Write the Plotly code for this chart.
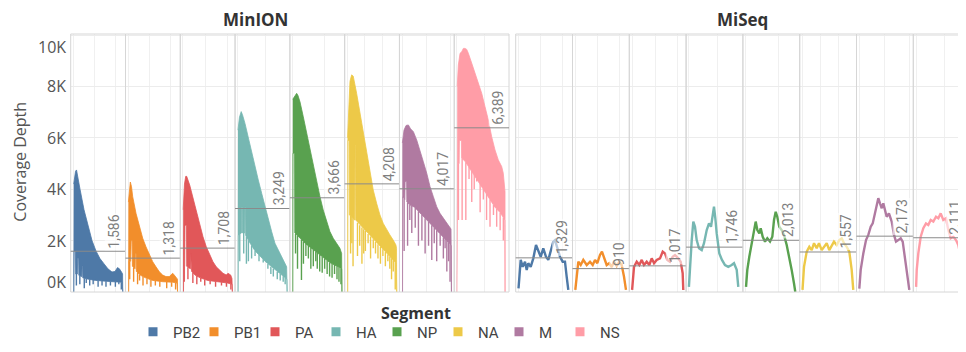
import numpy as np
import plotly.graph_objects as go

# ---------------- data ----------------
segments = ["PB2", "PB1", "PA", "HA", "NP", "NA", "M", "NS"]
colors = ["#4e79a7", "#f28e2b", "#e15759", "#76b7b2", "#59a14f", "#edc948", "#b07aa1", "#ff9da7"]
segment_length_nt = [2341, 2341, 2233, 1778, 1565, 1413, 1027, 890]
panels = ["MinION", "MiSeq"]
minion_mean = [1586, 1318, 1708, 3249, 3666, 4208, 4017, 6389]
miseq_mean = [1329, 910, 1017, 1746, 2013, 1557, 2173, 2111]
y_tick_values = [0, 2000, 4000, 6000, 8000, 10000]
y_tick_labels = ["0K", "2K", "4K", "6K", "8K", "10K"]

# MinION coverage (position as % of segment, depth): upper envelope, body floor, dips
PB2_MINION_TOP = [(0.6, 4200), (4.3, 4700), (6.3, 4750), (9.3, 4400), (13.4, 4000), (21.5, 3200), (29.6, 2550), (37.7, 2000), (45.7, 1600), (53.8, 1300), (61.9, 1100), (70.0, 900), (78.1, 780), (84.2, 800), (89.3, 950), (93.3, 900), (97.4, 780), (99.6, 700)]
PB2_MINION_FLOOR = [(0, 0), (1, 0), (1.6, 1600), (4, 1600), (4.5, 700), (8, 700), (8.5, 1300), (10.5, 1300), (11, 650), (17, 600), (17.5, 1000), (18.5, 1000), (19, 550), (30, 500), (45, 450), (60, 420), (80, 400), (98.8, 380), (100, 0)]
PB2_MINION_DIPS = [(6, 250), (13, 300), (22, 150), (26, 350), (33, 250), (40, 300), (50, 200), (58, 250), (66, 200), (75, 250), (85, 200), (92, 300), (97, 100)]

PB1_MINION_TOP = [(0.4, 3500), (2.6, 4100), (4.3, 4280), (6.7, 4100), (9.1, 3710), (15.8, 3060), (22.5, 2540), (29.4, 2090), (36, 1760), (42.7, 1440), (49.6, 1180), (56.3, 980), (63, 790), (69.8, 660), (76.5, 600), (83.2, 600), (90.1, 730), (93.3, 660), (98.2, 530), (99.8, 500)]
PB1_MINION_FLOOR = [(0, 0), (1, 0), (1.6, 1200), (5, 1200), (6, 2000), (8, 2000), (8.5, 1000), (14, 900), (14.5, 1500), (16, 1500), (16.5, 800), (25, 650), (35, 550), (50, 450), (70, 400), (90, 380), (98.8, 350), (100, 0)]
PB1_MINION_DIPS = [(3, 500), (11, 400), (19, 300), (23, 450), (30, 250), (38, 300), (46, 200), (55, 250), (64, 200), (78, 150), (88, 200), (96, 100)]

PA_MINION_TOP = [(0.4, 3200), (3, 4200), (5.5, 4500), (7.5, 4500), (13.6, 4160), (20.2, 3650), (26.9, 3120), (33.8, 2610), (40.5, 2150), (47.2, 1760), (54, 1440), (60.7, 1180), (67.4, 980), (74.3, 860), (81, 730), (87.7, 660), (91.1, 730), (96.6, 660), (99.2, 530)]
PA_MINION_FLOOR = [(0, 0), (1, 0), (1.6, 1000), (3.5, 1000), (4, 2600), (7, 2600), (7.5, 1000), (15, 900), (15.5, 1500), (17, 1500), (17.5, 800), (25, 650), (35, 550), (50, 450), (70, 400), (90, 350), (99.5, 300), (100, 0)]
PA_MINION_DIPS = [(2.5, 400), (10, 500), (20, 350), (28, 300), (36, 400), (44, 250), (55, 300), (66, 200), (78, 250), (88, 200), (97, 100)]

HA_MINION_TOP = [(0.4, 6300), (3.4, 6800), (6.9, 7020), (9.5, 6900), (14.6, 6560), (21.3, 5980), (28.1, 5460), (34.8, 4880), (41.5, 4360), (48.4, 3840), (55.1, 3320), (61.7, 2800), (68.6, 2350), (75.3, 1900), (82, 1630), (88.9, 1370), (94.1, 1180), (99, 980)]
HA_MINION_FLOOR = [(0, 0), (0.8, 0), (1.2, 2200), (7.5, 2300), (8, 3300), (9, 3300), (9.5, 2300), (14, 2300), (14.5, 3300), (15.5, 3300), (16, 2200), (25, 1900), (35, 1600), (45, 1400), (55, 1200), (66, 1000), (76, 850), (86, 700), (96, 550), (99.5, 500), (100, 0)]
HA_MINION_DIPS = [(4, 1200), (12, 1500), (17.5, 1100), (21.5, 1200), (28, 1300), (35, 1400), (43, 1200), (51.5, 1150), (61, 900), (67, 700), (72, 600), (80, 500), (86, 450), (92, 400), (96, 300)]

NP_MINION_TOP = [(0.4, 7500), (3.8, 7600), (8.3, 7730), (10.9, 7650), (15, 7400), (21.7, 6820), (28.5, 6170), (35.2, 5530), (41.9, 4880), (48.8, 4290), (55.5, 3710), (62.1, 3190), (69, 2740), (75.7, 2350), (82.4, 2090), (89.3, 1900), (95.9, 1700), (99.4, 1500)]
NP_MINION_FLOOR = [(0, 0), (0.6, 0), (1.0, 5400), (4, 5400), (4.5, 2300), (15, 2100), (25, 1900), (35, 1750), (45, 1600), (55, 1450), (65, 1300), (75, 1150), (85, 1050), (95, 950), (99.5, 900), (100, 0)]
NP_MINION_DIPS = [(6, 1500), (10, 900), (18, 470), (22, 1100), (27, 1400), (32, 1300), (37, 900), (42, 1000), (47, 1200), (50, 900), (55, 800), (60, 750), (65, 900), (70, 700), (75, 600), (80, 550), (85, 700), (90, 500), (94, 400), (98, 300)]

NA_MINION_TOP = [(0.4, 6000), (2.2, 7000), (5.3, 8200), (8.7, 8450), (11.9, 8400), (18.8, 7730), (25.5, 6950), (32.2, 6170), (39.1, 5400), (45.7, 4620), (52.4, 3970), (59.3, 3450), (66, 3000), (72.7, 2670), (79.6, 2410), (86.2, 2220), (92.9, 2020), (98.4, 1830), (99.6, 1700)]
NA_MINION_FLOOR = [(0, 0), (0.8, 0), (1.2, 5900), (3.5, 5900), (4, 3000), (10, 2900), (15, 2800), (15.5, 5700), (16.5, 5700), (17, 2800), (20, 2700), (30, 2500), (40, 2300), (50, 2100), (60, 1900), (70, 1700), (80, 1500), (90, 1300), (99, 1100), (100, 0)]
NA_MINION_DIPS = [(6.5, 1500), (9, 1900), (11.5, 1000), (20.5, 1400), (25, 1800), (29.5, 1100), (33, 1500), (36.5, 1600), (42, 1900), (47, 1300), (52.5, 1700), (57, 1500), (62, 1300), (67, 1100), (72, 1400), (77, 1000), (82, 1200), (86, 900), (89.5, 500), (93, 800), (97, 100)]

M_MINION_TOP = [(0.4, 5800), (3.8, 6300), (7.9, 6480), (12.6, 6500), (17, 6350), (22.7, 6240), (29.6, 5910), (36.2, 5530), (42.9, 5070), (49.8, 4620), (56.5, 4100), (63.2, 3710), (70, 3320), (76.7, 3060), (83.4, 2870), (90.3, 2670), (95.5, 2540), (99, 2450)]
M_MINION_FLOOR = [(0, 0), (0.8, 0), (1.2, 3700), (5.5, 3600), (6, 4300), (9, 4300), (9.5, 3500), (15, 3400), (25, 3300), (35, 3100), (45, 2900), (55, 2700), (65, 2500), (75, 2300), (85, 2100), (95, 1900), (99.5, 1800), (100, 0)]
M_MINION_DIPS = [(4, 1600), (11, 1800), (15.5, 2800), (19.5, 2300), (26.5, 2500), (33, 1800), (40, 2000), (46.5, 1500), (53.5, 1800), (60, 1250), (65, 1900), (70, 1200), (77, 1800), (83.5, 1300), (87, 1700), (90.5, 800), (94, 1200), (97, 400)]

NS_MINION_TOP = [(0.6, 8000), (2.8, 8830), (6.3, 9290), (9.7, 9350), (13, 9480), (16.4, 9480), (19.8, 9440), (23.1, 9290), (30, 8900), (36.6, 8510), (43.3, 8120), (50.2, 7730), (56.9, 7210), (63.6, 6690), (70.4, 6040), (77.1, 5530), (83.8, 5140), (90.7, 4880), (93.9, 4620), (96, 4100), (97.4, 3900)]
NS_MINION_FLOOR = [(0, 0), (0.8, 0), (1.5, 5000), (4.5, 5000), (5, 5900), (9, 5900), (9.5, 5200), (16, 5100), (27, 4800), (37, 4500), (47, 4200), (57, 3900), (67, 3600), (77, 3300), (87, 3100), (94, 2900), (97, 2800), (97.5, 0)]
NS_MINION_DIPS = [(3, 2800), (10.5, 2800), (18, 2800), (24.5, 4400), (30, 3500), (35, 4000), (40, 4300), (47, 3100), (53.5, 3600), (60, 2800), (67, 2540), (74, 3000), (80.5, 2540), (87.5, 2400), (94, 2000)]

# MiSeq coverage (position as % of segment, depth)
PB2_MISEQ = [(0, 140), (4.3, 1250), (8.2, 980), (12.7, 1180), (16, 860), (19.1, 1120), (23.8, 980), (28.9, 1310), (34.2, 1830), (38.7, 1570), (43.4, 1370), (48.4, 1700), (53.7, 1370), (58.2, 1250), (62.9, 1630), (68, 1960), (71.3, 2020), (75.8, 1760), (81.1, 1370), (86.3, 1180), (90.8, 1180), (94.1, 600), (97.3, 80)]
PB1_MISEQ = [(0, 80), (5.9, 1180), (10.5, 1050), (15.6, 1250), (22.3, 1050), (28.7, 1180), (34, 1050), (38.5, 1250), (43, 1120), (48.2, 1440), (52.1, 1570), (56.1, 1310), (61.3, 1050), (66.4, 1120), (71.1, 980), (75.6, 1180), (80.9, 1010), (85.9, 1180), (90.6, 1050), (95.1, 600), (99, 80)]
PA_MISEQ = [(0, 80), (3.7, 980), (9, 1180), (14.1, 1050), (18.8, 1250), (23.2, 1050), (28.5, 1180), (33.6, 1050), (38.3, 1310), (42.8, 1120), (48, 1250), (54.5, 1310), (59.8, 1570), (64.3, 1500), (68.8, 1250), (74, 1180), (79.3, 1370), (83.8, 1440), (90.2, 1310), (94.9, 1180), (98.8, 730), (100, 80)]
HA_MISEQ = [(0, 200), (2.1, 980), (5.5, 2020), (8.6, 2740), (11.9, 2540), (15.2, 2020), (19.7, 1700), (25, 1630), (29.5, 1900), (34.8, 2410), (39.3, 2670), (43.2, 2540), (46.5, 3000), (49, 3320), (51.6, 2870), (54.3, 2280), (59.4, 1500), (64.6, 1250), (70.5, 1050), (76.9, 980), (83.6, 1050), (88.1, 1120), (93.4, 860), (96.5, 200)]
NP_MISEQ = [(0.6, 200), (3.1, 860), (7, 1370), (11.7, 1900), (16.2, 2280), (19.5, 2740), (22.7, 2410), (26.6, 2280), (29.3, 2480), (33.2, 2150), (37.7, 1960), (42.2, 2090), (47.5, 1960), (52, 2150), (55.3, 2800), (58.6, 3120), (61.7, 2930), (65.6, 2540), (70.3, 2410), (74.8, 2220), (80.1, 1830), (85.2, 1370), (89.8, 860), (94.3, 340), (96.9, 0)]
NA_MISEQ = [(0, 80), (2.9, 980), (8.2, 1570), (13.3, 1760), (18, 1630), (22.5, 1900), (27.7, 1700), (32.2, 1900), (37.5, 1630), (42, 1760), (47.3, 1900), (52.3, 1630), (57, 1830), (61.5, 1960), (66.8, 1830), (71.9, 2020), (76.6, 2090), (81.1, 1900), (86.3, 1760), (91.4, 1570), (96.1, 860), (99.2, 80)]
M_MISEQ = [(0, 130), (2.7, 860), (7.8, 1500), (13.1, 2020), (17.6, 2220), (22.3, 2540), (26.2, 2670), (30.7, 3060), (34, 3390), (37.1, 3650), (40.4, 3450), (43.8, 3260), (46.9, 3450), (50.2, 3120), (53.5, 2930), (57.9, 3060), (63.3, 2740), (67.8, 2220), (71.7, 1960), (76.2, 2020), (80.9, 2090), (84.8, 1960), (89.3, 1370), (93.8, 600), (97.7, 80)]
NS_MISEQ = [(0, 200), (1.2, 860), (4.3, 1500), (9, 2150), (14.1, 2480), (19.3, 2670), (23.8, 2610), (28.5, 2800), (33.6, 2740), (38.9, 2930), (43.4, 2870), (48, 3060), (53.1, 2800), (58.4, 2870), (62.9, 2410), (67.6, 2090), (72.7, 2150), (77.9, 2020), (82.4, 1830), (87.1, 1370), (91, 730), (93.6, 200)]

minion_top = [PB2_MINION_TOP, PB1_MINION_TOP, PA_MINION_TOP, HA_MINION_TOP, NP_MINION_TOP, NA_MINION_TOP, M_MINION_TOP, NS_MINION_TOP]
minion_floor = [PB2_MINION_FLOOR, PB1_MINION_FLOOR, PA_MINION_FLOOR, HA_MINION_FLOOR, NP_MINION_FLOOR, NA_MINION_FLOOR, M_MINION_FLOOR, NS_MINION_FLOOR]
minion_dips = [PB2_MINION_DIPS, PB1_MINION_DIPS, PA_MINION_DIPS, HA_MINION_DIPS, NP_MINION_DIPS, NA_MINION_DIPS, M_MINION_DIPS, NS_MINION_DIPS]
miseq_lines = [PB2_MISEQ, PB1_MISEQ, PA_MISEQ, HA_MISEQ, NP_MISEQ, NA_MISEQ, M_MISEQ, NS_MISEQ]

# ---------------- layout geometry (window pixels) ----------------
WIN_W, WIN_H = 966, 352
OFF = 8                      # default page margin of the html body
FW, FH = WIN_W - OFF, WIN_H - OFF


def px_x(x):
    return (x - OFF) / FW


def px_y(y):
    return (WIN_H - y) / FH


PLOT_TOP, PLOT_BOTTOM = 34, 292
MINION_LEFT, MINION_COL = 70.7, 54.79
MISEQ_LEFT, MISEQ_COL = 515.7, 56.8
X_RANGE = [-5.5, 105.5]
Y_RANGE = [0, 10040]

fig = go.Figure()
layout_axes = {}
shapes = []
annotations = []


def axis_name(k):
    return "x" if k == 0 else f"x{k + 1}"


def layout_key(k):
    return "xaxis" if k == 0 else f"xaxis{k + 1}"


for p, panel in enumerate(panels):
    for i, seg in enumerate(segments):
        k = p * 8 + i
        ax = axis_name(k)
        rng = list(X_RANGE)
        if p == 0:
            x0 = MINION_LEFT + i * MINION_COL
            x1 = x0 + MINION_COL
        else:
            x0 = MISEQ_LEFT + i * MISEQ_COL
            x1 = x0 + MISEQ_COL
            if x1 > WIN_W:  # last column is cut by the picture edge
                rng[1] = X_RANGE[0] + (WIN_W - x0) / MISEQ_COL * (X_RANGE[1] - X_RANGE[0])
                x1 = WIN_W
        L = segment_length_nt[i]
        step = 1000 if L >= 1500 else 500
        grid_vals = [100.0 * n * step / L for n in range(0, int(L // step) + 1)]
        layout_axes[layout_key(k)] = dict(
            domain=[px_x(x0), min(1.0, px_x(x1))], range=rng, anchor="y",
            showticklabels=False, ticks="", showline=False, zeroline=False,
            showgrid=True, gridcolor="#f0f0f0", gridwidth=1,
            tickmode="array", tickvals=grid_vals, fixedrange=True,
        )
        color = colors[i]
        if p == 0:
            top = minion_top[i]
            floor = minion_floor[i]
            xs = [a for a, _ in top] + [a for a, _ in floor[::-1]]
            ys = [b for _, b in top] + [b for _, b in floor[::-1]]
            fig.add_trace(go.Scatter(
                x=xs, y=ys, xaxis=ax, yaxis="y", mode="lines", fill="toself",
                fillcolor=color, line=dict(color=color, width=0.8),
                showlegend=False, hoverinfo="skip"))
            fx = [a for a, _ in floor]
            fy = [b for _, b in floor]
            dx, dy = [], []
            for a, b in minion_dips[i]:
                dx += [a, a, None]
                dy += [b, float(np.interp(a, fx, fy)), None]
            fig.add_trace(go.Scatter(
                x=dx, y=dy, xaxis=ax, yaxis="y", mode="lines",
                line=dict(color=color, width=1.4),
                showlegend=False, hoverinfo="skip"))
            mean = minion_mean[i]
        else:
            pts = miseq_lines[i]
            fig.add_trace(go.Scatter(
                x=[a for a, _ in pts], y=[b for _, b in pts], xaxis=ax, yaxis="y",
                mode="lines", line=dict(color=color, width=2.4),
                showlegend=False, hoverinfo="skip"))
            mean = miseq_mean[i]

        # column border
        shapes.append(dict(type="rect", xref=f"{ax} domain", yref="y domain",
                           x0=0, x1=1, y0=0, y1=1, line=dict(color="#d6d6d6", width=1),
                           fillcolor="rgba(0,0,0,0)", layer="above"))
        # mean reference line
        shapes.append(dict(type="line", xref=f"{ax} domain", yref="y",
                           x0=0, x1=1, y0=mean, y1=mean,
                           line=dict(color="#8a8a8a", width=1), layer="above"))
        annotations.append(dict(
            xref=f"{ax} domain", yref="y", x=1, y=mean, xanchor="right", yanchor="bottom",
            text=f"{mean:,}", textangle=-90, showarrow=False, yshift=1, xshift=-1,
            font=dict(family="Roboto", size=14, color="#7f7f7f"),
            bgcolor="rgba(255,255,255,0.6)", borderpad=1))

# y tick labels (Tableau keeps the end labels inside the pane)
tick_shift = {0: 10, 10000: -11.5}
for v, t in zip(y_tick_values, y_tick_labels):
    annotations.append(dict(xref="paper", yref="y", x=px_x(67), y=v, xanchor="right",
                            yanchor="middle", text=t, showarrow=False,
                            yshift=tick_shift.get(v, 0), borderpad=0,
                            font=dict(family="Open Sans", size=16, color="#555555")))
annotations.append(dict(xref="paper", yref="paper", x=px_x(20), y=px_y(161.7),
                        text="Coverage Depth", textangle=-90, showarrow=False,
                        xanchor="center", yanchor="middle",
                        font=dict(family="Open Sans", size=16, color="#555555")))

# legend entries
for seg, color in zip(segments, colors):
    fig.add_trace(go.Scatter(x=[None], y=[None], mode="markers", name=seg,
                             marker=dict(symbol="square", size=9, color=color)))

# panel headers and legend title
annotations.append(dict(xref="paper", yref="paper", x=px_x(256), y=px_y(19.5),
                        text="<b>MinION</b>", showarrow=False, xanchor="center", yanchor="middle",
                        borderpad=0, font=dict(family="Open Sans", size=17, color="#333333")))
annotations.append(dict(xref="paper", yref="paper", x=px_x(742.5), y=px_y(19.5),
                        text="<b>MiSeq</b>", showarrow=False, xanchor="center", yanchor="middle",
                        borderpad=0, font=dict(family="Open Sans", size=17, color="#333333")))
annotations.append(dict(xref="paper", yref="paper", x=px_x(416), y=px_y(313),
                        text="<b>Segment</b>", showarrow=False, xanchor="center", yanchor="middle",
                        font=dict(family="Open Sans", size=16, color="#333333")))

fig.update_layout(
    width=FW, height=FH,
    margin=dict(l=0, r=0, t=0, b=0, autoexpand=False),
    paper_bgcolor="white", plot_bgcolor="white",
    font=dict(family="Open Sans", color="#555555"),
    yaxis=dict(domain=[px_y(PLOT_BOTTOM), px_y(PLOT_TOP)], range=Y_RANGE,
               anchor="x", tickmode="array", tickvals=y_tick_values, ticktext=y_tick_labels,
               showticklabels=False, ticks="", showline=False,
               zeroline=False, showgrid=True, gridcolor="#ececec", automargin=False,
               fixedrange=True),
    showlegend=True,
    legend=dict(orientation="h", x=px_x(133), y=px_y(332), xanchor="left", yanchor="middle",
                entrywidth=16, entrywidthmode="pixels", itemsizing="trace",
                font=dict(family="Roboto", size=15, color="#444444"),
                bgcolor="rgba(0,0,0,0)", borderwidth=0),
    shapes=shapes, annotations=annotations,
    **layout_axes,
)

fig.write_html("out.html")
